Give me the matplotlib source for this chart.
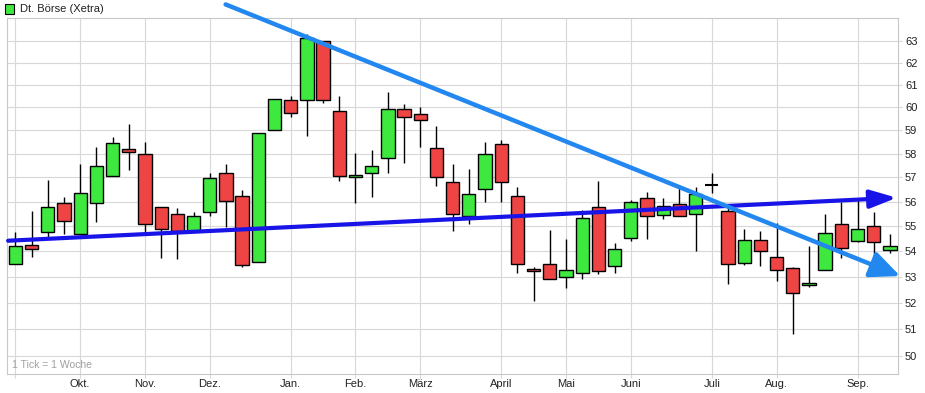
import matplotlib
matplotlib.use("Agg")
import matplotlib.pyplot as plt
import matplotlib.patches as mpatches
import matplotlib.ticker as mticker
import numpy as np
import pandas as pd

# weekly candles, Dt. Börse (Xetra), Sep 2013 - Sep 2014
first_week = "2013-09-02"
opens = [53.52, 54.25, 54.78, 55.93, 54.70, 55.93, 57.08, 58.21, 58.00, 55.80,
         55.50, 54.80, 55.58, 57.20, 56.25, 53.56, 59.00, 60.33, 60.33, 63.00,
         59.85, 57.04, 57.17, 57.80, 59.93, 59.70, 58.25, 56.80, 55.43, 56.51,
         58.42, 56.24, 53.29, 53.50, 53.00, 53.13, 55.77, 53.43, 54.53, 56.14,
         55.44, 55.89, 55.50, 56.67, 55.60, 53.53, 54.44, 53.77, 53.33, 52.69,
         53.27, 55.09, 54.40, 55.00, 54.07]
highs = [54.75, 55.60, 56.90, 56.18, 57.58, 58.28, 58.70, 59.26, 58.51, 55.80,
         55.76, 55.57, 57.20, 57.58, 56.46, 58.90, 60.38, 60.50, 63.30, 63.00,
         60.52, 58.04, 58.14, 60.70, 60.15, 60.00, 59.20, 57.55, 57.34, 58.51,
         58.60, 56.60, 53.40, 54.83, 54.50, 55.65, 56.85, 54.32, 56.07, 56.40,
         56.14, 56.70, 56.60, 57.18, 55.80, 54.87, 54.80, 55.13, 53.37, 54.20,
         55.50, 56.00, 56.07, 55.57, 54.69]
lows = [53.50, 53.78, 54.50, 54.70, 54.70, 55.17, 57.08, 57.30, 54.70, 53.74,
        53.68, 54.80, 55.40, 54.96, 53.39, 53.56, 59.00, 59.60, 58.75, 60.18,
        56.86, 55.96, 56.20, 57.17, 57.60, 58.30, 56.65, 54.80, 55.10, 56.00,
        56.00, 53.15, 52.08, 52.93, 52.58, 52.90, 53.10, 53.15, 54.40, 54.49,
        55.29, 55.40, 54.00, 56.34, 52.74, 53.47, 53.44, 52.83, 50.83, 52.59,
        53.27, 53.73, 54.36, 53.67, 53.93]
closes = [54.22, 54.09, 55.80, 55.22, 56.35, 57.50, 58.46, 58.08, 55.10, 54.90,
          54.80, 55.43, 56.97, 56.04, 53.48, 58.90, 60.38, 59.75, 63.15, 60.33,
          57.05, 57.12, 57.50, 59.93, 59.57, 59.45, 57.00, 55.50, 56.32, 58.00,
          56.80, 53.50, 53.22, 52.93, 53.26, 55.33, 53.22, 54.09, 56.00, 55.40,
          55.84, 55.40, 56.30, 56.67, 53.49, 54.44, 54.00, 53.27, 52.38, 52.78,
          54.73, 54.13, 54.89, 54.37, 54.20]

month_names = ["Jan.", "Feb.", "März", "April", "Mai", "Juni", "Juli",
               "Aug.", "Sep.", "Okt.", "Nov.", "Dez."]
price_ticks = [50, 51, 52, 53, 54, 55, 56, 57, 58, 59, 60, 61, 62, 63]

# hand drawn trend lines (week index, price)
support_start = (-0.45, 54.42)
support_end = (54.42, 56.16)
resist_start = (12.98, 64.7)
resist_end = (54.64, 53.03)

GREEN = "#3ee83e"
RED = "#ee4444"
GRID = "#d8d8d8"

weeks = pd.date_range(first_week, periods=len(closes), freq="7D")
x = np.arange(len(closes))
o = np.array(opens)
c = np.array(closes)

# month tick on the week that holds the 1st of the month
tick_pos = [0]
tick_lab = [""]
for i, d in enumerate(weeks):
    end = d + pd.Timedelta(days=6)
    if d.day == 1 or end.day < d.day:
        tick_pos.append(i)
        tick_lab.append(month_names[end.month - 1])

fig = plt.figure(figsize=(9.25, 3.93), dpi=100)
ax = fig.add_axes([0.0079, 0.0483, 0.9629, 0.9059])

ax.set_yscale("log")
ax.set_ylim(49.36, 64.06)
ax.set_xlim(-0.5, 54.5)

# wicks
ax.vlines(x, lows, highs, color="black", lw=1, zorder=2)
# bodies
up = c > o
down = c < o
ax.bar(x[up], (c - o)[up], bottom=o[up], width=0.82, color=GREEN,
       edgecolor="black", lw=1, zorder=3)
ax.bar(x[down], (o - c)[down], bottom=c[down], width=0.82, color=RED,
       edgecolor="black", lw=1, zorder=3)
flat = c == o
ax.hlines(o[flat], x[flat] - 0.41, x[flat] + 0.41, color="black", lw=1.5, zorder=3)

# trend lines
ax.annotate("", xy=support_end, xytext=support_start, annotation_clip=False,
            arrowprops=dict(arrowstyle="-|>,head_length=1.6,head_width=0.55",
                            mutation_scale=10, lw=3, color="#1814e8",
                            shrinkA=0, shrinkB=0), zorder=5)
ax.annotate("", xy=resist_end, xytext=resist_start, annotation_clip=False,
            arrowprops=dict(arrowstyle="-|>,head_length=1.8,head_width=0.8",
                            mutation_scale=10, lw=3.2, color="#2288f0",
                            shrinkA=0, shrinkB=0), zorder=5)

ax.yaxis.tick_right()
ax.yaxis.set_major_locator(mticker.FixedLocator(price_ticks))
ax.yaxis.set_major_formatter(mticker.FixedFormatter([str(p) for p in price_ticks]))
ax.yaxis.set_minor_locator(mticker.NullLocator())
ax.set_xticks(tick_pos)
ax.set_xticklabels(tick_lab)
ax.grid(True, color=GRID, lw=0.8, zorder=0)
ax.set_axisbelow(True)
ax.tick_params(axis="both", colors=GRID, length=3, width=0.8, labelsize=8,
               labelcolor="#222222")
ax.tick_params(axis="y", pad=2)
ax.tick_params(axis="x", pad=0.5)
for lab in ax.get_xticklabels() + ax.get_yticklabels():
    lab.set_family("Liberation Sans")
for s in ax.spines.values():
    s.set_color("#c8c8c8")
    s.set_linewidth(0.8)

ax.text(0.005, 0.012, "1 Tick = 1 Woche", transform=ax.transAxes, fontsize=7.5,
        color="#a0a0a0", family="Liberation Sans", va="bottom", ha="left")

# legend square and title
fig.patches.append(mpatches.Rectangle((5 / 925, 1 - 14 / 393), 9 / 925, 10 / 393,
                                      transform=fig.transFigure, facecolor=GREEN,
                                      edgecolor="black", lw=0.8))
fig.text(20 / 925, 1 - 9 / 393, "Dt. Börse (Xetra)", fontsize=8,
         family="Liberation Sans", va="center", ha="left", color="#222222")

fig.savefig("out.png", dpi=100)
